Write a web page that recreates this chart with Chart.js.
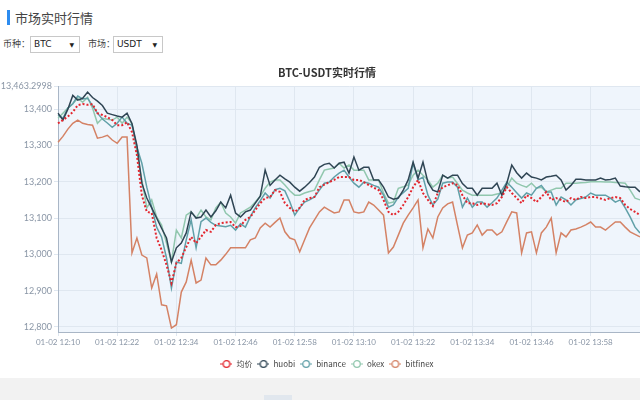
<!DOCTYPE html>
<html>
<head>
<meta charset="utf-8">
<script src="https://cdn.jsdelivr.net/npm/chart.js@4"></script>
<style>
  body { margin: 0; width: 640px; height: 400px; overflow: hidden; background: #fff; position: relative;
         font-family: "Noto Sans CJK SC", "Noto Sans", sans-serif; color: #333; }
  .head { position: absolute; left: 7px; top: 10px; height: 15px; border-left: 3px solid #2d8cf0;
          padding-left: 5px; font-size: 13px; line-height: 15px; color: #444; }
  .filters { position: absolute; top: 36px; left: 3px; font-size: 9px; line-height: 16px; color: #444; }
  .filters span { position: absolute; top: 0; white-space: nowrap; }
  .sel { position: absolute; top: 0; height: 15px; border: 1px solid #c8c8c8; background: #fff;
         font-family: "DejaVu Sans", sans-serif; font-size: 9px; line-height: 15px; padding-left: 3px; color: #222; }
  .sel i { position: absolute; right: 5px; top: 0; font-style: normal; font-size: 6px; }
  .wrap { position: absolute; left: 0; top: 60px; width: 640px; height: 318px; overflow: hidden; }
  .foot { position: absolute; left: 0; top: 378px; width: 640px; height: 22px; background: #f2f2f2; }
  .foot div { position: absolute; left: 264px; top: 17px; width: 28px; height: 5px; background: #e1e7ee; }
</style>
</head>
<body>
<div class="head">市场实时行情</div>
<div class="filters">
  <span style="left:0">币种：</span>
  <div class="sel" style="left:27px;width:45px">BTC<i>▼</i></div>
  <span style="left:85px">市场：</span>
  <div class="sel" style="left:110px;width:45px">USDT<i>▼</i></div>
</div>
<div class="wrap"><canvas id="marketChart" width="656" height="318"></canvas></div>
<div class="foot"><div></div></div>

<script>
// one point per minute, 01-02 12:10 .. 14:08
const times = [];
for (let i = 0; i < 119; i++) {
    const m = 10 + i;
    times.push('01-02 ' + (12 + Math.floor(m / 60)) + ':' + String(m % 60).padStart(2, '0'));
}

const seriesNames = ['均价', 'huobi', 'binance', 'okex', 'bitfinex'];

const avgPrice = [13361,13370,13380,13392,13411,13414,13412,13414,13389,13384,13378,13370,13356,13356,13364,13337,13273,13163,13117,13114,
    13045,13012,12971,12921,12976,12990,13020,13048,13031,13048,13067,13062,13081,13086,13088,13089,13075,13078,13095,13103,
    13122,13141,13155,13158,13177,13172,13141,13128,13117,13128,13150,13155,13158,13185,13192,13199,13205,13213,13213,13213,
    13205,13205,13199,13191,13184,13177,13150,13117,13108,13117,13136,13158,13185,13205,13169,13150,13133,13169,13185,13190,
    13196,13191,13163,13141,13141,13136,13141,13138,13136,13141,13158,13185,13169,13155,13141,13163,13155,13144,13158,13172,
    13150,13155,13150,13144,13155,13150,13158,13155,13158,13158,13154,13150,13155,13158,13155,13136,13125,13117,13108];

const huobi = [13389,13370,13400,13438,13425,13430,13447,13432,13422,13410,13389,13385,13381,13378,13389,13360,13300,13196,13155,13128,
    13100,13072,13045,12979,13018,13031,13059,13117,13100,13103,13122,13103,13120,13144,13128,13163,13114,13103,13117,13122,
    13141,13160,13232,13190,13205,13218,13208,13199,13185,13174,13185,13198,13213,13240,13248,13251,13238,13251,13254,13224,
    13268,13232,13240,13240,13205,13205,13185,13158,13152,13155,13177,13205,13254,13210,13254,13199,13177,13172,13218,13210,
    13218,13218,13195,13182,13182,13163,13182,13182,13182,13196,13163,13196,13246,13225,13210,13224,13213,13210,13205,13213,
    13215,13218,13205,13177,13190,13207,13207,13205,13205,13205,13210,13205,13206,13210,13188,13186,13185,13185,13172];

const binance = [13384,13375,13403,13415,13436,13428,13430,13410,13389,13373,13362,13350,13361,13378,13361,13356,13295,13251,13185,13130,
    13075,13048,12990,12907,12979,12975,13040,13095,13018,13090,13100,13088,13080,13078,13076,13080,13067,13084,13075,13104,
    13128,13148,13169,13155,13178,13182,13175,13145,13108,13128,13144,13150,13158,13177,13196,13199,13213,13224,13232,13213,
    13196,13185,13199,13196,13190,13185,13163,13130,13136,13158,13170,13182,13251,13205,13213,13163,13136,13152,13196,13199,
    13199,13185,13130,13155,13130,13144,13144,13130,13142,13155,13177,13199,13185,13170,13155,13169,13163,13182,13190,13172,
    13172,13136,13158,13150,13136,13150,13154,13158,13169,13163,13163,13163,13155,13144,13150,13128,13103,13075,13059];

const okex = [13375,13389,13403,13415,13430,13419,13433,13403,13361,13375,13372,13370,13378,13361,13378,13361,13282,13205,13128,13150,
    13103,13081,13031,12979,13067,13045,13108,13117,13100,13122,13103,13095,13128,13144,13114,13103,13086,13114,13122,13130,
    13144,13160,13182,13199,13205,13205,13191,13175,13163,13163,13169,13173,13177,13205,13232,13235,13238,13251,13238,13246,
    13232,13232,13232,13205,13205,13205,13169,13141,13144,13182,13186,13191,13218,13232,13218,13205,13185,13196,13218,13210,
    13213,13195,13177,13169,13163,13163,13163,13163,13163,13166,13169,13185,13210,13196,13190,13185,13196,13182,13185,13172,
    13177,13182,13182,13196,13196,13196,13197,13198,13200,13200,13200,13199,13199,13198,13197,13196,13177,13155,13150];

const bitfinex = [13309,13325,13345,13361,13370,13361,13358,13356,13320,13323,13328,13315,13306,13323,13323,13004,13045,12998,12990,12907,
    12946,12861,12858,12797,12806,12896,12924,12984,12921,12929,12990,12971,12971,12984,13000,13018,13018,13018,13018,13040,
    13045,13073,13086,13075,13088,13100,13062,13045,13040,13007,13040,13073,13095,13117,13130,13122,13114,13117,13150,13150,
    13117,13114,13117,13144,13136,13122,13108,13004,13020,13053,13086,13108,13128,13150,13018,13070,13045,13103,13128,13139,
    13144,13080,13018,13053,13059,13081,13053,13067,13067,13053,13062,13090,13117,13114,13004,13059,13062,13004,13059,13075,
    13100,13004,13059,13048,13067,13070,13075,13081,13089,13075,13075,13067,13078,13089,13089,13075,13062,13055,13048];

const yMin = 12786;
const yMax = 13463.2998;
const yTicks = [12800, 12900, 13000, 13100, 13200, 13300, 13400, 13463.2998];

const colors = ['#e3262e', '#2f4554', '#61a0a8', '#91c7ae', '#d48265'];

// legend icon: short line with a hollow circle
function legendIcon(color) {
    const c = document.createElement('canvas');
    c.width = 12; c.height = 10;
    const g = c.getContext('2d');
    g.strokeStyle = color;
    g.lineWidth = 1;
    g.beginPath(); g.moveTo(0, 5); g.lineTo(12, 5); g.stroke();
    g.lineWidth = 1.3;
    g.fillStyle = '#fff';
    g.beginPath(); g.arc(6, 5, 3.3, 0, Math.PI * 2); g.fill(); g.stroke();
    return c;
}

const plotBackground = {
    id: 'plotBackground',
    // let the long top y label use the left padding instead of being clipped
    afterLayout(chart) {
        chart.scales.y.left = 0;
    },
    beforeDraw(chart) {
        const a = chart.chartArea;
        const ctx = chart.ctx;
        ctx.save();
        ctx.fillStyle = '#eff5fc';
        ctx.fillRect(a.left, a.top, a.right - a.left, a.bottom - a.top);
        ctx.restore();
    }
};

const allData = [avgPrice, huobi, binance, okex, bitfinex];
const datasets = seriesNames.map((name, k) => ({
    label: name,
    data: allData[k],
    borderColor: colors[k],
    backgroundColor: colors[k],
    borderWidth: k === 0 ? 2 : 1.5,
    borderDash: k === 0 ? [2, 2] : [],
    pointRadius: 0,
    pointStyle: legendIcon(colors[k]),
    fill: false,
    tension: 0
}));

const ctx = document.getElementById('marketChart').getContext('2d');
const marketChart = new Chart(ctx, {
    type: 'line',
    data: { labels: times, datasets: datasets },
    plugins: [plotBackground],
    options: {
        responsive: false,
        animation: false,
        layout: { padding: { left: 14, right: 16, top: 0, bottom: 0 } },
        plugins: {
            title: {
                display: true,
                text: 'BTC-USDT实时行情',
                color: '#333',
                font: { size: 11, weight: 'bold', family: '"Noto Sans CJK SC", "Noto Sans", sans-serif' },
                padding: { top: 6, bottom: 7 }
            },
            legend: {
                position: 'bottom',
                labels: {
                    usePointStyle: true,
                    pointStyleWidth: 12,
                    color: '#444',
                    padding: 5,
                    font: { size: 8, family: '"Noto Sans CJK SC", "Lato", sans-serif' }
                }
            },
            tooltip: { enabled: false }
        },
        scales: {
            x: {
                grid: {
                    color: c => (c.index % 12 === 0 ? '#dfe7f0' : 'transparent'),
                    tickLength: 4
                },
                border: { color: '#a9b6c6' },
                ticks: {
                    autoSkip: false,
                    maxRotation: 0,
                    padding: 2,
                    color: '#8a96a6',
                    font: { size: 8, family: 'Lato, sans-serif' },
                    callback: function(v, i) { return i % 12 === 0 ? times[i] : ''; }
                },
                afterFit: s => { s.height = 23; }
            },
            y: {
                min: yMin,
                max: yMax,
                afterBuildTicks: s => { s.ticks = yTicks.map(v => ({ value: v })); },
                afterFit: s => { s.width = 44; },
                grid: { color: '#dfe7f0', tickLength: 4 },
                border: { color: '#a9b6c6' },
                ticks: {
                    color: '#8a96a6',
                    font: { size: 9, family: 'Lato, sans-serif' },
                    padding: 2,
                    callback: v => (v === yMax ? '13,463.2998' : v.toLocaleString('en-US'))
                }
            }
        }
    }
});
</script>
</body>
</html>
